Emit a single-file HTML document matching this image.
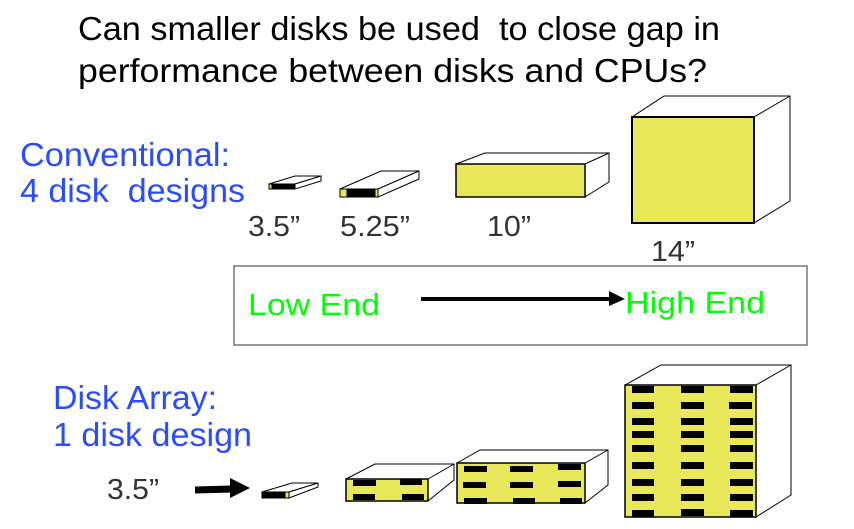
<!DOCTYPE html>
<html><head><meta charset="utf-8"><style>
html,body{margin:0;padding:0;background:#fff;}
svg{display:block;}
text{font-family:"Liberation Sans",Arial,sans-serif;}
</style></head><body>
<svg width="854" height="529" viewBox="0 0 854 529" xmlns="http://www.w3.org/2000/svg">
<text x="78" y="40" font-size="33" fill="#000" textLength="642" lengthAdjust="spacingAndGlyphs" xml:space="preserve">Can smaller disks be used  to close gap in</text>
<text x="78" y="82" font-size="33" fill="#000" textLength="629" lengthAdjust="spacingAndGlyphs">performance between disks and CPUs?</text>

<text x="20" y="166" font-size="33" fill="#2a4cff" textLength="210" lengthAdjust="spacingAndGlyphs">Conventional:</text>
<text x="20" y="202" font-size="33" fill="#2a4cff" textLength="225" lengthAdjust="spacingAndGlyphs" xml:space="preserve">4 disk  designs</text>

<g stroke="#000" stroke-width="1" fill="none">
<polygon points="269,184 295,184 321,176 295,176" fill="#fff"/>
<polygon points="295,184 321,176 321,181 295,189" fill="#fff"/>
<rect x="269" y="184" width="26" height="5" fill="#000"/>
<rect x="269" y="184" width="3" height="5" fill="#e8e85a"/>
<polygon points="340,189 378,189 419,171 381,171" fill="#fff"/>
<polygon points="378,189 419,171 419,179 378,197" fill="#fff"/>
<rect x="340" y="189" width="38" height="8" fill="#000"/>
<rect x="340" y="189" width="7" height="8" fill="#e8e85a"/>
<rect x="375" y="189" width="3" height="8" fill="#e8e85a"/>
<polyline points="456,164 485,153 609,153 609,182 585,197"/>
<line x1="585" y1="164" x2="609" y2="153"/>
<rect x="456" y="164" width="129" height="33" fill="#e8e85a" stroke-width="1.5"/>
<polyline points="632,117 664,96 790,96 790,201 754,223"/>
<line x1="754" y1="117" x2="790" y2="96"/>
<rect x="632" y="117" width="122" height="106" fill="#e8e85a" stroke-width="2"/>
</g>
<g font-size="29" fill="#333">
<text x="248" y="236" textLength="52" lengthAdjust="spacingAndGlyphs">3.5”</text>
<text x="340" y="236" textLength="70" lengthAdjust="spacingAndGlyphs">5.25”</text>
<text x="487" y="236" textLength="44" lengthAdjust="spacingAndGlyphs">10”</text>
<text x="651" y="261" textLength="44" lengthAdjust="spacingAndGlyphs">14”</text>
</g>

<rect x="234" y="266" width="573" height="79" fill="none" stroke="#555" stroke-width="1.2"/>
<text x="248" y="315" font-size="31" fill="#00ff00" textLength="132" lengthAdjust="spacingAndGlyphs">Low End</text>
<line x1="421" y1="299" x2="611" y2="299" stroke="#000" stroke-width="4"/>
<polygon points="609,291 625,299 609,306" fill="#000"/>
<text x="625" y="313" font-size="31" fill="#00ff00" textLength="140" lengthAdjust="spacingAndGlyphs">High End</text>

<text x="53" y="409" font-size="33" fill="#2a4cff" textLength="164" lengthAdjust="spacingAndGlyphs">Disk Array:</text>
<text x="53" y="446" font-size="33" fill="#2a4cff" textLength="199" lengthAdjust="spacingAndGlyphs">1 disk design</text>
<text x="107" y="499" font-size="29" fill="#333" textLength="52" lengthAdjust="spacingAndGlyphs">3.5”</text>

<line x1="195" y1="490" x2="232" y2="489" stroke="#000" stroke-width="7"/>
<polygon points="230,478 250,488 230,498" fill="#000"/>

<g stroke="#000" stroke-width="1" fill="none">
<polygon points="262,492 289,492 318,483 292,483" fill="#fff"/>
<polygon points="289,492 318,483 318,487 289,498" fill="#fff"/>
<rect x="262" y="492" width="27" height="6" fill="#000"/>
<rect x="285" y="492" width="4" height="6" fill="#e8e85a"/>

<polyline points="346,479 375,464 454,464 454,480 428,501"/>
<line x1="428" y1="479" x2="454" y2="464"/>
<rect x="346" y="479" width="82" height="22" fill="#e8e85a" stroke-width="1.5"/>

<polyline points="457,463 480,450 608,450 608,485 585,503"/>
<line x1="585" y1="463" x2="608" y2="450"/>
<rect x="457" y="463" width="128" height="40" fill="#e8e85a" stroke-width="1.5"/>

<polyline points="625,385 661,365 791,365 791,495 756,517"/>
<line x1="756" y1="385" x2="791" y2="365"/>
<rect x="625" y="385" width="131" height="132" fill="#e8e85a" stroke-width="1.5"/>
</g>
<g fill="#000">
<rect x="353" y="480" width="23" height="6"/><rect x="400" y="479" width="22" height="6"/>
<rect x="353" y="494" width="22" height="6"/><rect x="402" y="494" width="22" height="6"/>
<rect x="464" y="466" width="23" height="6"/><rect x="510" y="466" width="23" height="6"/><rect x="558" y="464" width="23" height="6"/>
<rect x="463" y="482" width="23" height="6"/><rect x="510" y="482" width="23" height="6"/><rect x="558" y="481" width="23" height="6"/>
<rect x="464" y="498" width="23" height="6"/><rect x="513" y="498" width="22" height="6"/><rect x="560" y="498" width="22" height="6"/>
</g>
<g fill="#000">
<rect x="632" y="386" width="22" height="7"/><rect x="681" y="386" width="23" height="7"/><rect x="730" y="386" width="23" height="7"/>
<rect x="632" y="402" width="22" height="7"/><rect x="681" y="402" width="23" height="7"/><rect x="729" y="402" width="23" height="7"/>
<rect x="632" y="418" width="22" height="7"/><rect x="681" y="418" width="23" height="7"/><rect x="730" y="418" width="23" height="7"/>
<rect x="632" y="431" width="22" height="7"/><rect x="681" y="431" width="23" height="7"/><rect x="730" y="431" width="23" height="7"/>
<rect x="632" y="445" width="22" height="7"/><rect x="681" y="445" width="23" height="7"/><rect x="730" y="445" width="23" height="7"/>
<rect x="632" y="462" width="22" height="7"/><rect x="681" y="462" width="23" height="7"/><rect x="730" y="462" width="23" height="7"/>
<rect x="632" y="479" width="22" height="7"/><rect x="681" y="479" width="23" height="7"/><rect x="730" y="479" width="23" height="7"/>
<rect x="632" y="494" width="22" height="7"/><rect x="681" y="494" width="23" height="7"/><rect x="730" y="494" width="23" height="7"/>
<rect x="632" y="510" width="22" height="7"/><rect x="681" y="509" width="23" height="7"/><rect x="730" y="510" width="23" height="7"/>
</g>
</svg>
</body></html>
